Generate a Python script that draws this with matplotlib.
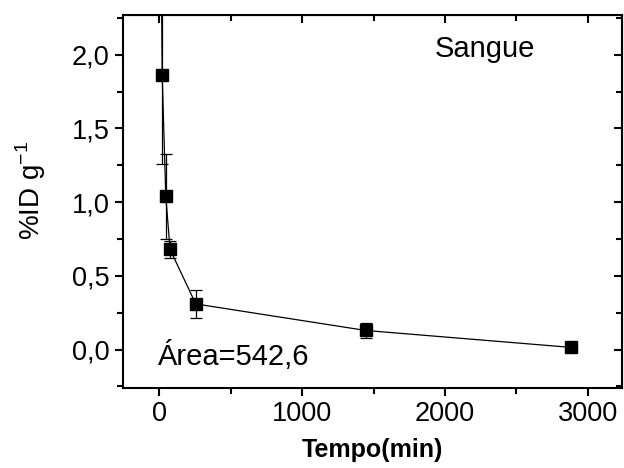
import matplotlib
matplotlib.use('Agg')
import matplotlib.pyplot as plt
from matplotlib.ticker import MultipleLocator, FuncFormatter

# blood curve (Sangue)
tempo = [8, 20, 45, 75, 255, 1445, 2885]
dose = [3.2, 1.86, 1.04, 0.68, 0.31, 0.13, 0.015]
erro = [0.9, 0.60, 0.29, 0.06, 0.095, 0.05, 0.01]

plt.rcParams['font.family'] = ['Liberation Sans', 'DejaVu Sans']

fig = plt.figure(figsize=(6.24, 4.68), dpi=100)
ax = fig.add_axes([0.197, 0.171, 0.8, 0.797])

ax.errorbar(tempo, dose, yerr=erro, fmt='s-', color='black', ms=8,
            lw=0.9, elinewidth=0.9, capsize=4, capthick=0.9)

ax.set_xlim(-255, 3240)
ax.set_ylim(-0.26, 2.27)

ax.xaxis.set_major_locator(MultipleLocator(1000))
ax.xaxis.set_minor_locator(MultipleLocator(500))
ax.yaxis.set_major_locator(MultipleLocator(0.5))
ax.yaxis.set_minor_locator(MultipleLocator(0.25))
ax.yaxis.set_major_formatter(FuncFormatter(lambda v, p: '{:.1f}'.format(v).replace('.', ',')))

for s in ax.spines.values():
    s.set_linewidth(1.5)

ax.tick_params(which='both', direction='out', width=1.5, labelsize=19.5, top=False, right=False)
ax.tick_params(which='major', length=6)
ax.tick_params(which='minor', length=4)
# mirrored ticks pointing inward
ax2 = ax.secondary_xaxis('top')
ax2.xaxis.set_major_locator(MultipleLocator(1000))
ax2.xaxis.set_minor_locator(MultipleLocator(500))
ax2.tick_params(which='both', direction='in', width=1.5, labeltop=False)
ax2.tick_params(which='major', length=6)
ax2.tick_params(which='minor', length=4)
ax3 = ax.secondary_yaxis('right')
ax3.yaxis.set_major_locator(MultipleLocator(0.5))
ax3.yaxis.set_minor_locator(MultipleLocator(0.25))
ax3.tick_params(which='both', direction='in', width=1.5, labelright=False)
ax3.tick_params(which='major', length=6)
ax3.tick_params(which='minor', length=4)

ax.set_xlabel('Tempo(min)', fontsize=18, fontweight='bold', labelpad=8)
ax.set_ylabel(r'%ID g$^{\mathregular{-1}}$', fontsize=20)
ax.yaxis.set_label_coords(-0.15, 0.53)

ax.text(2280, 2.04, 'Sangue', fontsize=21, ha='center', va='center')
ax.text(-10, -0.04, 'Área=542,6', fontsize=21, ha='left', va='center')

fig.savefig('out.png', dpi=100)
